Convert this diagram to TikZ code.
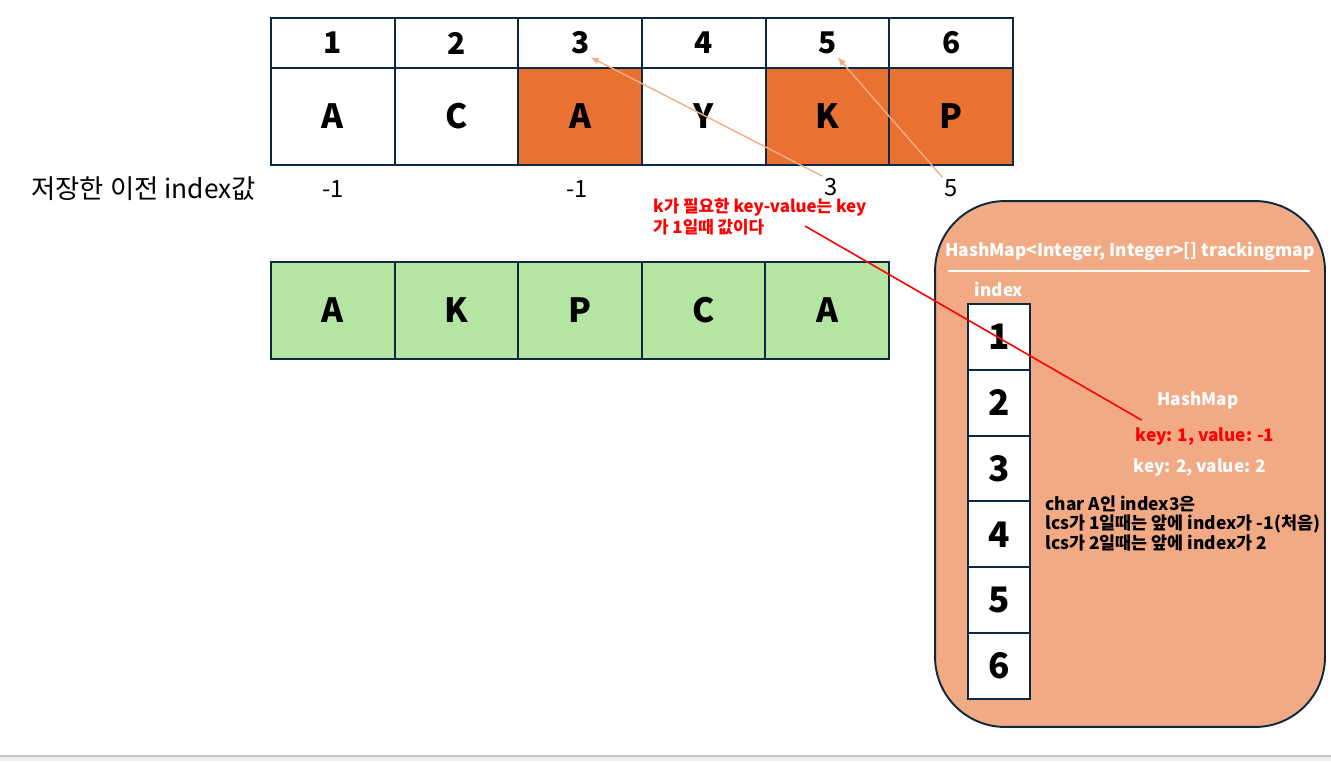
\documentclass[tikz,border=0pt]{standalone}
\usepackage{fontspec}
\setmainfont{Noto Sans CJK KR}
\usepackage{xcolor}
\usetikzlibrary{arrows.meta}

\definecolor{navy}{HTML}{0E2841}
\definecolor{cellorange}{HTML}{E97132}
\definecolor{cellgreen}{HTML}{B4E5A2}
\definecolor{hashfill}{HTML}{F1AA84}
\definecolor{pointerorange}{HTML}{F4AE85}
\definecolor{bandgray}{HTML}{EFEFEF}

\tikzset{
   cell/.style={draw=navy,line width=1.1pt,minimum width=2.474cm,inner sep=0pt,
      font=\bfseries\fontsize{19}{19}\selectfont},
   valtext/.style={inner sep=1pt,font=\fontsize{13.5}{15}\selectfont},
   whitetxt/.style={white,inner sep=1pt,font=\bfseries\fontsize{9.8}{11}\selectfont},
   redtxt/.style={red,inner sep=1pt,font=\bfseries\fontsize{9.5}{11}\selectfont},
   pointer/.style={pointerorange,line width=0.8pt,-{Latex[length=5pt,width=4pt]}}
}

\begin{document}
\begin{tikzpicture}[x=0.02cm,y=-0.02cm]
   \useasboundingbox (0,0) rectangle (1331,761);

   % Top table: index row and chars
   \foreach \i/\c/\f in {1/A/white,2/C/white,3/A/cellorange,4/Y/white,5/K/cellorange,6/P/cellorange}{
      \node[cell,minimum height=1cm,font=\bfseries\fontsize{17}{17}\selectfont] (num\i) at ({271+(\i-0.5)*123.67},43) {\i};
      \node[cell,minimum height=1.94cm,fill=\f] (chr\i) at ({271+(\i-0.5)*123.67},116.5) {\c};
   }

   % stored previous index
   \node[valtext,anchor=east,font=\fontsize{15}{16}\selectfont] (label) at (258,189) {저장한 이전 index값};
   \node[valtext] (val1) at (333,189) {-1};
   \node[valtext] (val3) at (577,189) {-1};
   \node[valtext] (val5) at (831,187) {3};
   \node[valtext] (val6) at (951,188) {5};

   \draw[pointer] (val5.north west) -- ([shift={(10,14)}]num3.center);
   \draw[pointer] (val6.north west) -- ([shift={(10,14)}]num5.center);

   % Result (lcs)
   \foreach \c [count=\i] in {A,K,P,C,A}
      \node[cell,minimum height=1.94cm,fill=cellgreen] (res\i) at ({271+(\i-0.5)*123.6},310.5) {\c};

   % Tracking map box
   \node[draw=navy,line width=1.1pt,fill=hashfill,rounded corners=1.4cm,
      minimum width=7.8cm,minimum height=10.52cm] (mapbox) at (1130,464) {};
   \node[whitetxt,font=\bfseries\fontsize{9.9}{11}\selectfont] (title) at (1130,251) {HashMap<Integer, Integer>[] trackingmap};
   \draw[white,line width=1.2pt] (948,271) -- (1310,271);
   \node[whitetxt] (idxhead) at (999,289) {index};

   \foreach \i in {1,...,6}
      \node[cell,fill=white,minimum width=1.24cm,minimum height=1.316cm,
         font=\bfseries\fontsize{20}{20}\selectfont] (idx\i) at (999,{304+(\i-0.5)*65.8}) {\i};

   \node[whitetxt] (hm) at (1198,400) {HashMap};
   \node[redtxt,font=\bfseries\fontsize{9.8}{11}\selectfont] (key1) at (1205,437) {key: 1, value: -1};
   \node[whitetxt] (key2) at (1200,468) {key: 2, value: 2};
   \node[anchor=north west,align=left,inner sep=0pt,
      font=\bfseries\fontsize{9.9}{11.1}\selectfont] (note) at (1045,495)
      {char A인 index3은\\lcs가 1일때는 앞에 index가 -1(처음)\\lcs가 2일때는 앞에 index가 2};

   % red note
   \node[redtxt,anchor=north west,align=left,font=\bfseries\fontsize{9.6}{12}\selectfont] (kNote) at (651,196)
      {k가 필요한 key-value는 key\\가 1일때 값이다};
   \coordinate (noteEnd) at (805,226);
   \draw[red,line width=0.9pt] (noteEnd) -- ([shift={(8,-6)}]key1.north west);

   % bottom band
   \fill[bandgray] (0,756) rectangle (1331,761);
   \draw[gray!45,line width=0.6pt] (0,756) -- (1331,756);
\end{tikzpicture}
\end{document}
